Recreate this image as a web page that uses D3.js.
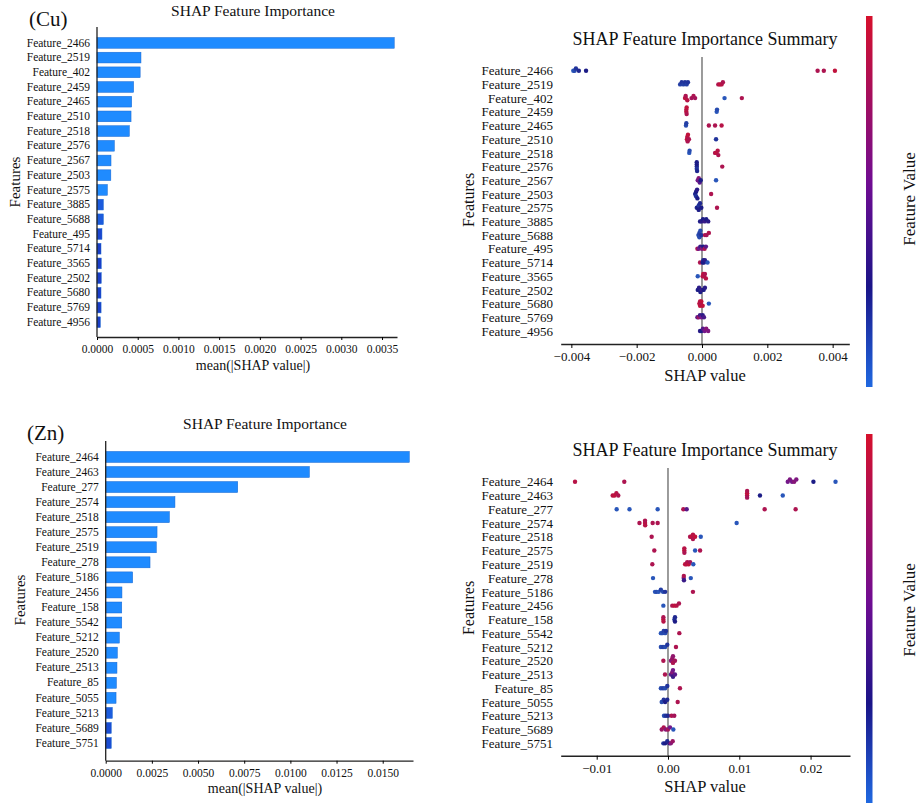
<!DOCTYPE html>
<html>
<head>
<meta charset="utf-8">
<script src="https://cdn.jsdelivr.net/npm/d3@7"></script>
<style>
  body { margin: 0; background: #fff; }
  svg { display: block; }
  text { fill: #111; }
</style>
</head>
<body>
<svg width="921" height="803"></svg>
<script>
// ---- Cu ----
const cuFeatures = ["Feature_2466", "Feature_2519", "Feature_402", "Feature_2459", "Feature_2465",
  "Feature_2510", "Feature_2518", "Feature_2576", "Feature_2567", "Feature_2503", "Feature_2575",
  "Feature_3885", "Feature_5688", "Feature_495", "Feature_5714", "Feature_3565", "Feature_2502",
  "Feature_5680", "Feature_5769", "Feature_4956"];
const cuImportance = [0.00365, 0.00054, 0.00053, 0.00045, 0.000426, 0.000418, 0.000397, 0.000213,
  0.000172, 0.00017, 0.000127, 0.000078, 0.000078, 0.000061, 0.000049, 0.000052, 0.000052,
  0.000049, 0.00005, 0.000041];
const cuBarTicks = [0, 0.0005, 0.001, 0.0015, 0.002, 0.0025, 0.003, 0.0035];
const cuShapTicks = [-0.004, -0.002, 0, 0.002, 0.004];
// [SHAP value, feature value (0 low .. 1 high)] per feature
const cuShap = [
  [[-0.00394, 0.05], [-0.0039, 0.1], [-0.00386, 0.2], [-0.00377, 0.25], [-0.00355, 0.3], [0.00354, 0.9], [0.00373, 0.9], [0.00407, 1]],
  [[-0.00067, 0.15], [-0.00062, 0.2], [-0.00057, 0.15], [-0.00052, 0.2], [-0.00047, 0.15], [-0.00043, 0.2], [0.0005, 0.9], [0.00055, 1], [0.0006, 0.95], [0.00064, 0.9]],
  [[-0.00052, 0.95], [-0.0005, 1], [-0.0005, 0.9], [-0.00045, 0.95], [-0.00032, 0.85], [-0.00026, 0.9], [-0.00021, 0.85], [0.00069, 0.05], [0.00122, 0.9]],
  [[-0.00048, 1], [-0.00048, 0.95], [-0.00047, 0.9], [-0.00047, 1], [0.00045, 0.05], [0.00046, 0.1]],
  [[-0.00049, 0.1], [-0.00048, 0.15], [0.00021, 0.9], [0.0004, 0.9], [0.0006, 0.95]],
  [[-0.00046, 1], [-0.00045, 0.95], [-0.00044, 0.9], [-0.00043, 1], [-0.0004, 0.9], [0.00043, 0.2]],
  [[-0.00039, 0.05], [-0.00038, 0.1], [0.0004, 0.9], [0.00044, 1], [0.00048, 0.95], [0.0005, 0.9]],
  [[-0.00016, 0.25], [-0.00016, 0.3], [-0.00016, 0.2], [-0.00016, 0.3], [-0.00015, 0.25], [0.00062, 0.9]],
  [[-0.00013, 0.6], [-0.0001, 0.7], [-0.00007, 0.5], [-0.00004, 0.3], [0.00043, 0.05]],
  [[-0.00021, 0.25], [-0.00018, 0.3], [-0.00018, 0.2], [-0.00015, 0.35], [-0.00014, 0.3], [0.00028, 0.9]],
  [[-0.00016, 0.25], [-0.00012, 0.3], [-0.0001, 0.2], [-0.0001, 0.3], [-0.00006, 0.25], [-0.00002, 0.3], [0.00046, 0.9]],
  [[-0.00006, 0.3], [-0.00002, 0.35], [0.00003, 0.3], [0.00008, 0.4], [0.00013, 0.3], [0.00019, 0.35]],
  [[-0.00011, 0.1], [-0.00008, 0.15], [-0.00008, 0.1], [-0.00005, 0.1], [-0.00002, 0.2], [0.00009, 0.9], [0.00014, 0.85], [0.00021, 0.9]],
  [[-0.00014, 0.9], [-0.0001, 0.6], [-0.00005, 0.4], [0, 0.7], [0.00004, 0.3], [0.00008, 0.9], [0.00012, 0.5]],
  [[-0.00006, 0.9], [0.00002, 0.3], [0.00004, 0.25], [0.00006, 0.3], [0.00009, 0.35], [0.00017, 0.05]],
  [[-0.00013, 0.05], [0.00002, 0.9], [0.00004, 1], [0.00006, 0.95], [0.00009, 0.9], [0.00012, 0.95]],
  [[-0.00013, 0.3], [-0.00009, 0.35], [-0.00005, 0.3], [0, 0.4], [0.00005, 0.3], [0.00009, 0.35]],
  [[-0.00008, 1], [-0.00006, 0.95], [-0.00006, 1], [-0.00004, 0.9], [-0.00002, 1], [0.00002, 1], [0.00021, 0.05]],
  [[-0.00014, 0.5], [-0.0001, 0.8], [-0.00006, 0.4], [-0.00002, 0.6], [0.00002, 0.35], [0.00006, 0.45]],
  [[-0.00006, 0.35], [-0.00002, 0.3], [0.00003, 0.5], [0.00008, 0.6], [0.00013, 0.7], [0.00019, 0.65]]
];

// ---- Zn ----
const znFeatures = ["Feature_2464", "Feature_2463", "Feature_277", "Feature_2574", "Feature_2518",
  "Feature_2575", "Feature_2519", "Feature_278", "Feature_5186", "Feature_2456", "Feature_158",
  "Feature_5542", "Feature_5212", "Feature_2520", "Feature_2513", "Feature_85", "Feature_5055",
  "Feature_5213", "Feature_5689", "Feature_5751"];
const znImportance = [0.01644, 0.01103, 0.00715, 0.00375, 0.00345, 0.00278, 0.00274, 0.0024,
  0.00146, 0.00088, 0.00087, 0.00087, 0.00074, 0.00063, 0.00061, 0.00058, 0.00056, 0.00036,
  0.0003, 0.0003];
const znBarTicks = [0, 0.0025, 0.005, 0.0075, 0.01, 0.0125, 0.015];
const znShapTicks = [-0.01, 0, 0.01, 0.02];
const znShap = [
  [[-0.01304, 0.95], [-0.00613, 0.9], [0.0168, 0.6], [0.0171, 0.65], [0.0174, 0.6], [0.0177, 0.7], [0.018, 0.65], [0.0204, 0.3], [0.0235, 0.05]],
  [[-0.00776, 0.95], [-0.0075, 1], [-0.00724, 0.95], [-0.00697, 0.9], [0.0111, 0.9], [0.0111, 1], [0.0111, 0.85], [0.0111, 0.9], [0.0129, 0.3], [0.0161, 0.05]],
  [[-0.0072, 0.05], [-0.0054, 0.05], [-0.00145, 0.05], [0.00215, 0.9], [0.00262, 0.5], [0.01356, 0.9], [0.0179, 0.9]],
  [[-0.004, 0.9], [-0.00322, 1], [-0.00322, 0.9], [-0.0032, 0.95], [-0.00215, 0.9], [-0.00145, 0.9], [0.00963, 0.05]],
  [[-0.00229, 0.9], [0.0031, 0.9], [0.0033, 1], [0.0035, 0.95], [0.0035, 0.9], [0.0038, 1], [0.0046, 0.05]],
  [[-0.00192, 0.9], [0.00229, 1], [0.00229, 0.95], [0.0023, 0.9], [0.0038, 0.05], [0.0045, 0.9]],
  [[-0.0022, 0.9], [0.0024, 1], [0.0026, 0.95], [0.0027, 0.9], [0.0029, 1], [0.0031, 0.85], [0.00355, 0.05]],
  [[-0.0021, 0.05], [0.0022, 0.6], [0.00222, 0.9], [0.00224, 0.4], [0.0032, 0.05]],
  [[-0.00182, 0.05], [-0.0016, 0.1], [-0.0013, 0.05], [-0.001, 0.15], [-0.0007, 0.1], [-0.0004, 0.2], [0.0035, 0.9]],
  [[-0.00065, 0.05], [0.0006, 0.9], [0.0009, 1], [0.0012, 0.95], [0.00154, 0.9]],
  [[-0.00065, 1], [-0.00065, 0.9], [-0.00063, 0.95], [0.0009, 0.2], [0.00098, 0.25], [0.00098, 0.3]],
  [[-0.001, 0.05], [-0.0008, 0.1], [-0.0006, 0.15], [-0.0004, 0.1], [-0.00028, 0.2], [0.00159, 0.9]],
  [[-0.001, 0.1], [-0.0007, 0.15], [-0.0004, 0.1], [-0.0001, 0.2], [0.00112, 0.9]],
  [[-0.00065, 0.9], [0.00042, 0.7], [0.0006, 0.8], [0.0007, 0.9], [0.0007, 0.75], [0.00098, 0.85]],
  [[-0.00042, 0.9], [0.00042, 0.5], [0.0006, 0.7], [0.0007, 0.4], [0.0007, 0.6], [0.00098, 0.5]],
  [[-0.001, 0.1], [-0.0007, 0.15], [-0.0004, 0.1], [-0.0001, 0.2], [0.00168, 0.9]],
  [[-0.00088, 0.1], [-0.0006, 0.2], [-0.0004, 0.3], [-0.0001, 0.25], [0.00136, 0.9]],
  [[-0.00056, 0.1], [-0.0003, 0.2], [0, 0.25], [0.0005, 0.9], [0.00088, 0.85]],
  [[-0.00088, 0.8], [-0.0006, 0.9], [-0.0003, 0.7], [0, 0.85], [0.00028, 0.6], [0.00075, 0.05]],
  [[-0.00065, 0.2], [-0.0004, 0.3], [-0.0001, 0.25], [0.0002, 0.35], [0.0004, 0.7], [0.00066, 0.8]]
];

const SERIF = "'Liberation Serif', 'Times New Roman', serif";

const svg = d3.select("svg").attr("font-family", SERIF);
svg.append("rect").attr("width", 921).attr("height", 803).attr("fill", "#fff");

const dotColor = d3.scaleLinear()
  .domain([0, 0.3, 0.6, 1])
  .range(["#2c62c4", "#1c1c86", "#74188a", "#c0123c"]);

function drawBars(c) {
  const g = svg.append("g");
  const x = d3.scaleLinear().domain(c.xDomain).range([c.x0, c.x1]);
  const half = c.rowStep / 2;
  const y = d3.scaleBand().domain(c.features)
    .range([c.rowFirst - half, c.rowFirst + c.rowStep * (c.features.length - 1) + half])
    .padding(0.27);
  const vmax = d3.max(c.values);
  const barColor = d3.scaleLinear().domain([0.015, 0.032])
    .range(["#1a3ec8", "#1f8bff"]).clamp(true);

  g.selectAll("rect.bar").data(c.features).join("rect")
    .attr("class", "bar")
    .attr("x", x(0))
    .attr("y", d => y(d))
    .attr("width", (d, i) => x(c.values[i]) - x(0))
    .attr("height", y.bandwidth())
    .attr("fill", (d, i) => barColor(c.values[i] / vmax))
    .attr("stroke", "#1766d0")
    .attr("stroke-width", 0.5);

  // y labels
  const ya = g.append("g").attr("transform", `translate(${c.x0},0)`)
    .call(d3.axisLeft(y).tickSize(0).tickPadding(7))
    .attr("font-family", SERIF).attr("font-size", 11.5);
  ya.select(".domain").remove();
  ya.selectAll("text").attr("fill", "#111");

  // x axis
  const xa = g.append("g").attr("transform", `translate(0,${c.yBottom})`)
    .call(d3.axisBottom(x).tickValues(c.ticks).tickFormat(d3.format(".4f")).tickSize(3).tickSizeOuter(0))
    .attr("font-family", SERIF).attr("font-size", 11.5);
  xa.select(".domain").attr("stroke", "#222").attr("stroke-width", 1.3);
  xa.selectAll("text").attr("y", 8).attr("fill", "#111");

  g.append("line").attr("x1", c.x0).attr("x2", c.x0)
    .attr("y1", c.yTop).attr("y2", c.yBottom)
    .attr("stroke", "#222").attr("stroke-width", 1.3);

  g.append("text").attr("x", c.titleX).attr("y", c.titleY)
    .attr("text-anchor", "middle").attr("font-size", 15.5).text("SHAP Feature Importance");
  g.append("text").attr("x", c.tagX).attr("y", c.tagY)
    .attr("font-size", 21).text(c.tag);
  g.append("text").attr("x", c.titleX).attr("y", c.xlabY)
    .attr("text-anchor", "middle").attr("font-size", 14).text("mean(|SHAP value|)");
  g.append("text").attr("transform", `translate(${c.ylabX},${c.ylabY}) rotate(-90)`)
    .attr("text-anchor", "middle").attr("font-size", 15).text("Features");
}

function swarm(points, x, step) {
  const pts = points.map(([s, f]) => ({ s, f, px: x(s) }));
  pts.sort((a, b) => a.px - b.px);
  let lastBin = null, layer = 0;
  pts.forEach(p => {
    const bin = Math.round(p.px / 3);
    layer = bin === lastBin ? layer + 1 : 0;
    lastBin = bin;
    p.dy = Math.ceil(layer / 2) * (layer % 2 ? -1 : 1) * step;
  });
  return pts;
}

function drawSummary(c) {
  const g = svg.append("g");
  const x = d3.scaleLinear().domain(c.xDomain).range([c.x0, c.x1]);
  const y = d3.scalePoint().domain(c.features)
    .range([c.rowFirst, c.rowFirst + c.rowStep * (c.features.length - 1)]);

  g.append("line").attr("x1", x(0)).attr("x2", x(0))
    .attr("y1", c.zeroTop).attr("y2", c.yAxis)
    .attr("stroke", "#666").attr("stroke-width", 1.3);

  c.features.forEach((f, i) => {
    const pts = swarm(c.shap[i], x, 2.2);
    g.append("g").selectAll("circle").data(pts).join("circle")
      .attr("cx", d => d.px)
      .attr("cy", d => y(f) + d.dy)
      .attr("r", 2.2)
      .attr("fill", d => dotColor(d.f));
  });

  const ya = g.append("g").attr("transform", `translate(${c.labelRight},0)`)
    .call(d3.axisLeft(y).tickSize(0).tickPadding(0))
    .attr("font-family", SERIF).attr("font-size", 13);
  ya.select(".domain").remove();
  ya.selectAll("text").attr("fill", "#111");

  const xa = g.append("g").attr("transform", `translate(0,${c.yAxis})`)
    .call(d3.axisBottom(x).tickValues(c.ticks).tickFormat(d3.format(c.fmt)).tickSize(4).tickSizeOuter(0))
    .attr("font-family", SERIF).attr("font-size", 13);
  xa.select(".domain").attr("stroke", "#222").attr("stroke-width", 1.5);
  xa.selectAll("text").attr("y", 8).attr("fill", "#111");

  g.append("text").attr("x", 705).attr("y", c.titleY)
    .attr("text-anchor", "middle").attr("font-size", 18).text("SHAP Feature Importance Summary");
  g.append("text").attr("x", 705).attr("y", c.xlabY)
    .attr("text-anchor", "middle").attr("font-size", 16.5).text("SHAP value");
  g.append("text").attr("transform", `translate(474,${c.ylabY}) rotate(-90)`)
    .attr("text-anchor", "middle").attr("font-size", 16).text("Features");
}

// colour bar gradient
const grad = svg.append("defs").append("linearGradient")
  .attr("id", "fv").attr("x1", 0).attr("y1", 1).attr("x2", 0).attr("y2", 0);
[[0, "#1f68e0"], [0.27, "#1a1488"], [0.55, "#700c92"], [1, "#d6102c"]].forEach(([o, col]) =>
  grad.append("stop").attr("offset", o).attr("stop-color", col));

function drawColorbar(top, bottom, labY) {
  svg.append("rect").attr("x", 866).attr("y", top).attr("width", 6.5)
    .attr("height", bottom - top).attr("fill", "url(#fv)");
  svg.append("text").attr("transform", `translate(915,${labY}) rotate(-90)`)
    .attr("text-anchor", "middle").attr("font-size", 17).text("Feature Value");
}

drawBars({
  features: cuFeatures, values: cuImportance, ticks: cuBarTicks,
  xDomain: [0, 0.003684], x0: 97, x1: 397, rowFirst: 41, rowStep: 14.9,
  yTop: 27, yBottom: 337, titleX: 253, titleY: 16, tag: "(Cu)", tagX: 29, tagY: 26,
  xlabY: 370, ylabX: 20, ylabY: 182
});
drawBars({
  features: znFeatures, values: znImportance, ticks: znBarTicks,
  xDomain: [0, 0.01664], x0: 105.7, x1: 413, rowFirst: 455, rowStep: 15.26,
  yTop: 441, yBottom: 760.7, titleX: 265, titleY: 429, tag: "(Zn)", tagX: 27, tagY: 440,
  xlabY: 793, ylabX: 25, ylabY: 600
});
drawSummary({
  features: cuFeatures, shap: cuShap, ticks: cuShapTicks, fmt: ".3f",
  xDomain: [-0.004326, 0.00451], x0: 560.7, x1: 849.3, rowFirst: 70.7, rowStep: 13.7,
  zeroTop: 57, yAxis: 344, labelRight: 553, titleY: 45, xlabY: 381, ylabY: 200
});
drawSummary({
  features: znFeatures, shap: znShap, ticks: znShapTicks, fmt: ".2f",
  xDomain: [-0.01505, 0.02553], x0: 560.7, x1: 850, rowFirst: 481.7, rowStep: 13.77,
  zeroTop: 468, yAxis: 755.7, labelRight: 553, titleY: 456, xlabY: 792, ylabY: 608
});
drawColorbar(16, 387, 199);
drawColorbar(434, 803, 610);
</script>
</body>
</html>
